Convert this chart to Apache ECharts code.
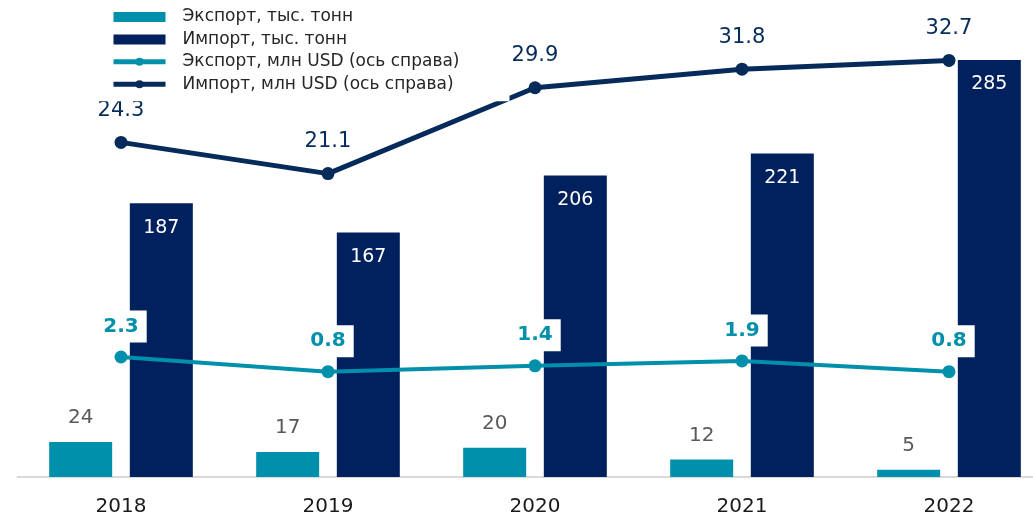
<!DOCTYPE html>
<html>
<head>
<meta charset="utf-8">
<script src="https://cdn.jsdelivr.net/npm/echarts@6/dist/echarts.min.js"></script>
<style>
  html, body { margin: 0; padding: 0; background: #ffffff; overflow: hidden; }
  /* the plot runs past the right edge of the window, so the last group is cut */
  #chart { width: 1053px; height: 518px; }
</style>
</head>
<body>
<div id="chart"></div>
<script>
// Years on the category axis
const years = ['2018', '2019', '2020', '2021', '2022'];
// Volumes, thousand tonnes (left axis)
const exportTons = [24, 17, 20, 12, 5];
const importTons = [187, 167, 206, 221, 285];
// Values, million USD (right axis)
const exportUsd = [2.3, 0.8, 1.4, 1.9, 0.8];
const importUsd = [24.3, 21.1, 29.9, 31.8, 32.7];

const TEAL = '#0090ab';
const NAVY = '#00205e';
const NAVY_LINE = '#062b5b';
const FONT = 'DejaVu Sans';

const chart = echarts.init(document.getElementById('chart'), null, { renderer: 'canvas' });

chart.setOption({
  animation: false,
  textStyle: { fontFamily: FONT },
  grid: { left: 17.5, right: 0.5, top: 38, bottom: 41, containLabel: false },
  legend: {
    orient: 'vertical',
    left: 99,
    top: 0,
    padding: [7, 50, 7, 12],
    backgroundColor: '#ffffff',
    itemWidth: 52,
    itemHeight: 10,
    itemGap: 2.4,
    z: 10,
    textStyle: { fontFamily: FONT, fontSize: 17, color: '#262626', lineHeight: 20, padding: [0, 0, 0, 12] },
    data: [
      { name: 'Экспорт, тыс. тонн', icon: 'rect' },
      { name: 'Импорт, тыс. тонн', icon: 'rect' },
      { name: 'Экспорт, млн USD (ось справа)', lineStyle: { width: 5 } },
      { name: 'Импорт, млн USD (ось справа)', lineStyle: { width: 5 } }
    ]
  },
  xAxis: {
    type: 'category',
    data: years,
    axisTick: { show: false },
    axisLine: { lineStyle: { color: '#d9d9d9', width: 2 } },
    axisLabel: { fontFamily: FONT, fontSize: 20, color: '#1a1a1a', margin: 20 }
  },
  yAxis: [
    { type: 'value', min: 0, max: 300, show: false, splitLine: { show: false } },
    { type: 'value', min: -10, max: 35, show: false, splitLine: { show: false } }
  ],
  series: [
    {
      name: 'Экспорт, тыс. тонн',
      type: 'bar',
      data: exportTons,
      barWidth: 63,
      barGap: '28%',
      itemStyle: { color: TEAL },
      label: { show: true, position: 'top', distance: 14, fontFamily: FONT, fontSize: 20, color: '#595959' }
    },
    {
      name: 'Импорт, тыс. тонн',
      type: 'bar',
      data: importTons,
      barWidth: 63,
      barGap: '28%',
      itemStyle: { color: NAVY },
      label: { show: true, position: 'insideTop', distance: 15, fontFamily: FONT, fontSize: 19, color: '#ffffff' }
    },
    {
      name: 'Экспорт, млн USD (ось справа)',
      type: 'line',
      yAxisIndex: 1,
      data: exportUsd,
      symbol: 'circle',
      symbolSize: 13,
      z: 5,
      lineStyle: { color: TEAL, width: 4 },
      itemStyle: { color: TEAL },
      label: {
        show: true, position: 'top', distance: 8,
        fontFamily: FONT, fontSize: 20, fontWeight: 'bold', color: TEAL,
        backgroundColor: '#ffffff', padding: [6, 8, 6, 8],
        formatter: p => p.value.toFixed(1)
      }
    },
    {
      name: 'Импорт, млн USD (ось справа)',
      type: 'line',
      yAxisIndex: 1,
      data: importUsd,
      symbol: 'circle',
      symbolSize: 13,
      z: 5,
      lineStyle: { color: NAVY_LINE, width: 5 },
      itemStyle: { color: NAVY_LINE },
      label: {
        show: true, position: 'top', distance: 15,
        fontFamily: FONT, fontSize: 21, color: NAVY_LINE,
        formatter: p => p.value.toFixed(1)
      }
    }
  ]
});
</script>
</body>
</html>
